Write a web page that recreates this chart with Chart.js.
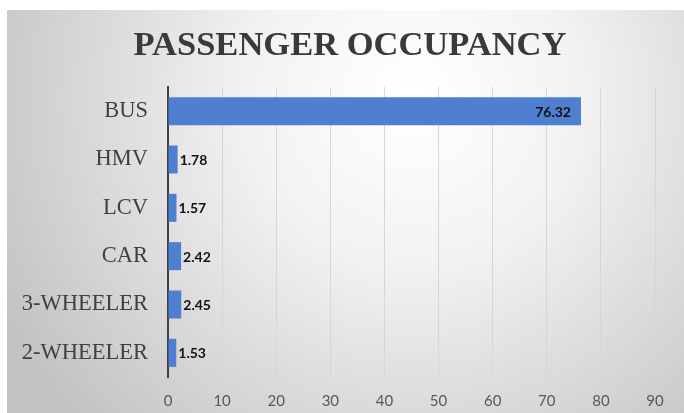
<!DOCTYPE html>
<html>
<head>
<meta charset="utf-8">
<script src="https://cdn.jsdelivr.net/npm/chart.js@4"></script>
<style>
    html, body { margin: 0; padding: 0; background: #ffffff; }
    #wrap { position: absolute; left: 7px; top: 10px; width: 677px; height: 403px; }
</style>
</head>
<body>
<div id="wrap"><canvas id="chart"></canvas></div>
<script>
// chart data
const categories = ['BUS', 'HMV', 'LCV', 'CAR', '3-WHEELER', '2-WHEELER'];
const occupancy = [76.32, 1.78, 1.57, 2.42, 2.45, 1.53];
const xMax = 90;
const xStep = 10;
const chartTitle = 'PASSENGER OCCUPANCY';

// grey radial background like the excel chart area
const backgroundPlugin = {
    id: 'bgGradient',
    beforeDraw(chart) {
        const ctx = chart.ctx;
        const w = chart.width, h = chart.height;
        const g = ctx.createRadialGradient(w * 0.6, h * 0.22, 10, w * 0.6, h * 0.22, w * 0.68);
        g.addColorStop(0, '#ffffff');
        g.addColorStop(0.35, '#f2f2f2');
        g.addColorStop(1, '#c3c3c3');
        ctx.save();
        ctx.fillStyle = g;
        ctx.fillRect(0, 0, w, h);
        ctx.restore();
    }
};

// title drawn here so it can sit centred over the whole frame
const serifTitle = {
    id: 'serifTitle',
    afterDraw(chart) {
        const ctx = chart.ctx;
        ctx.save();
        ctx.font = "bold 34.5px 'Liberation Serif'";
        ctx.fillStyle = '#3a3a3a';
        ctx.textAlign = 'center';
        ctx.textBaseline = 'alphabetic';
        ctx.fillText(chartTitle, 343, 45);
        ctx.restore();
    }
};

// value labels at the end of each bar
const valueLabels = {
    id: 'valueLabels',
    afterDatasetsDraw(chart) {
        const ctx = chart.ctx;
        const meta = chart.getDatasetMeta(0);
        ctx.save();
        ctx.font = 'bold 14px Lato';
        ctx.fillStyle = '#111111';
        ctx.textBaseline = 'middle';
        meta.data.forEach((bar, i) => {
            const text = occupancy[i].toFixed(2);
            if (bar.x - bar.base > 60) {
                ctx.textAlign = 'right';
                ctx.fillText(text, bar.x - 10, bar.y + 1);
            } else {
                ctx.textAlign = 'left';
                ctx.fillText(text, bar.x + 2, bar.y + 1);
            }
        });
        ctx.restore();
    }
};

new Chart(document.getElementById('chart'), {
    type: 'bar',
    data: {
        labels: categories,
        datasets: [{
            data: occupancy,
            backgroundColor: '#4f7fd1',
            barPercentage: 0.58,
            categoryPercentage: 1.0,
        }],
    },
    options: {
        indexAxis: 'y',
        responsive: true,
        maintainAspectRatio: false,
        animation: false,
        layout: {
            padding: { left: 0, right: 29, top: 77, bottom: 0 },
        },
        scales: {
            x: {
                min: 0,
                max: xMax,
                ticks: {
                    stepSize: xStep,
                    padding: 15,
                    color: '#595959',
                    font: { family: 'Lato', size: 15 },
                },
                grid: {
                    color: '#d6d6d6',
                    lineWidth: 1,
                    drawTicks: false,
                },
                border: { display: false },
                afterFit(scale) { scale.height = 36; },
            },
            y: {
                ticks: {
                    padding: 20,
                    color: '#404040',
                    font: { family: "'Liberation Serif', serif", size: 22.5 },
                },
                grid: { display: false, drawTicks: false },
                border: { display: true, color: '#404040', width: 2 },
                afterFit(scale) { scale.width = 161; },
            },
        },
        plugins: {
            legend: { display: false },
            tooltip: { enabled: false },
            title: { display: false },
        },
    },
    plugins: [backgroundPlugin, valueLabels, serifTitle],
});
</script>
</body>
</html>
